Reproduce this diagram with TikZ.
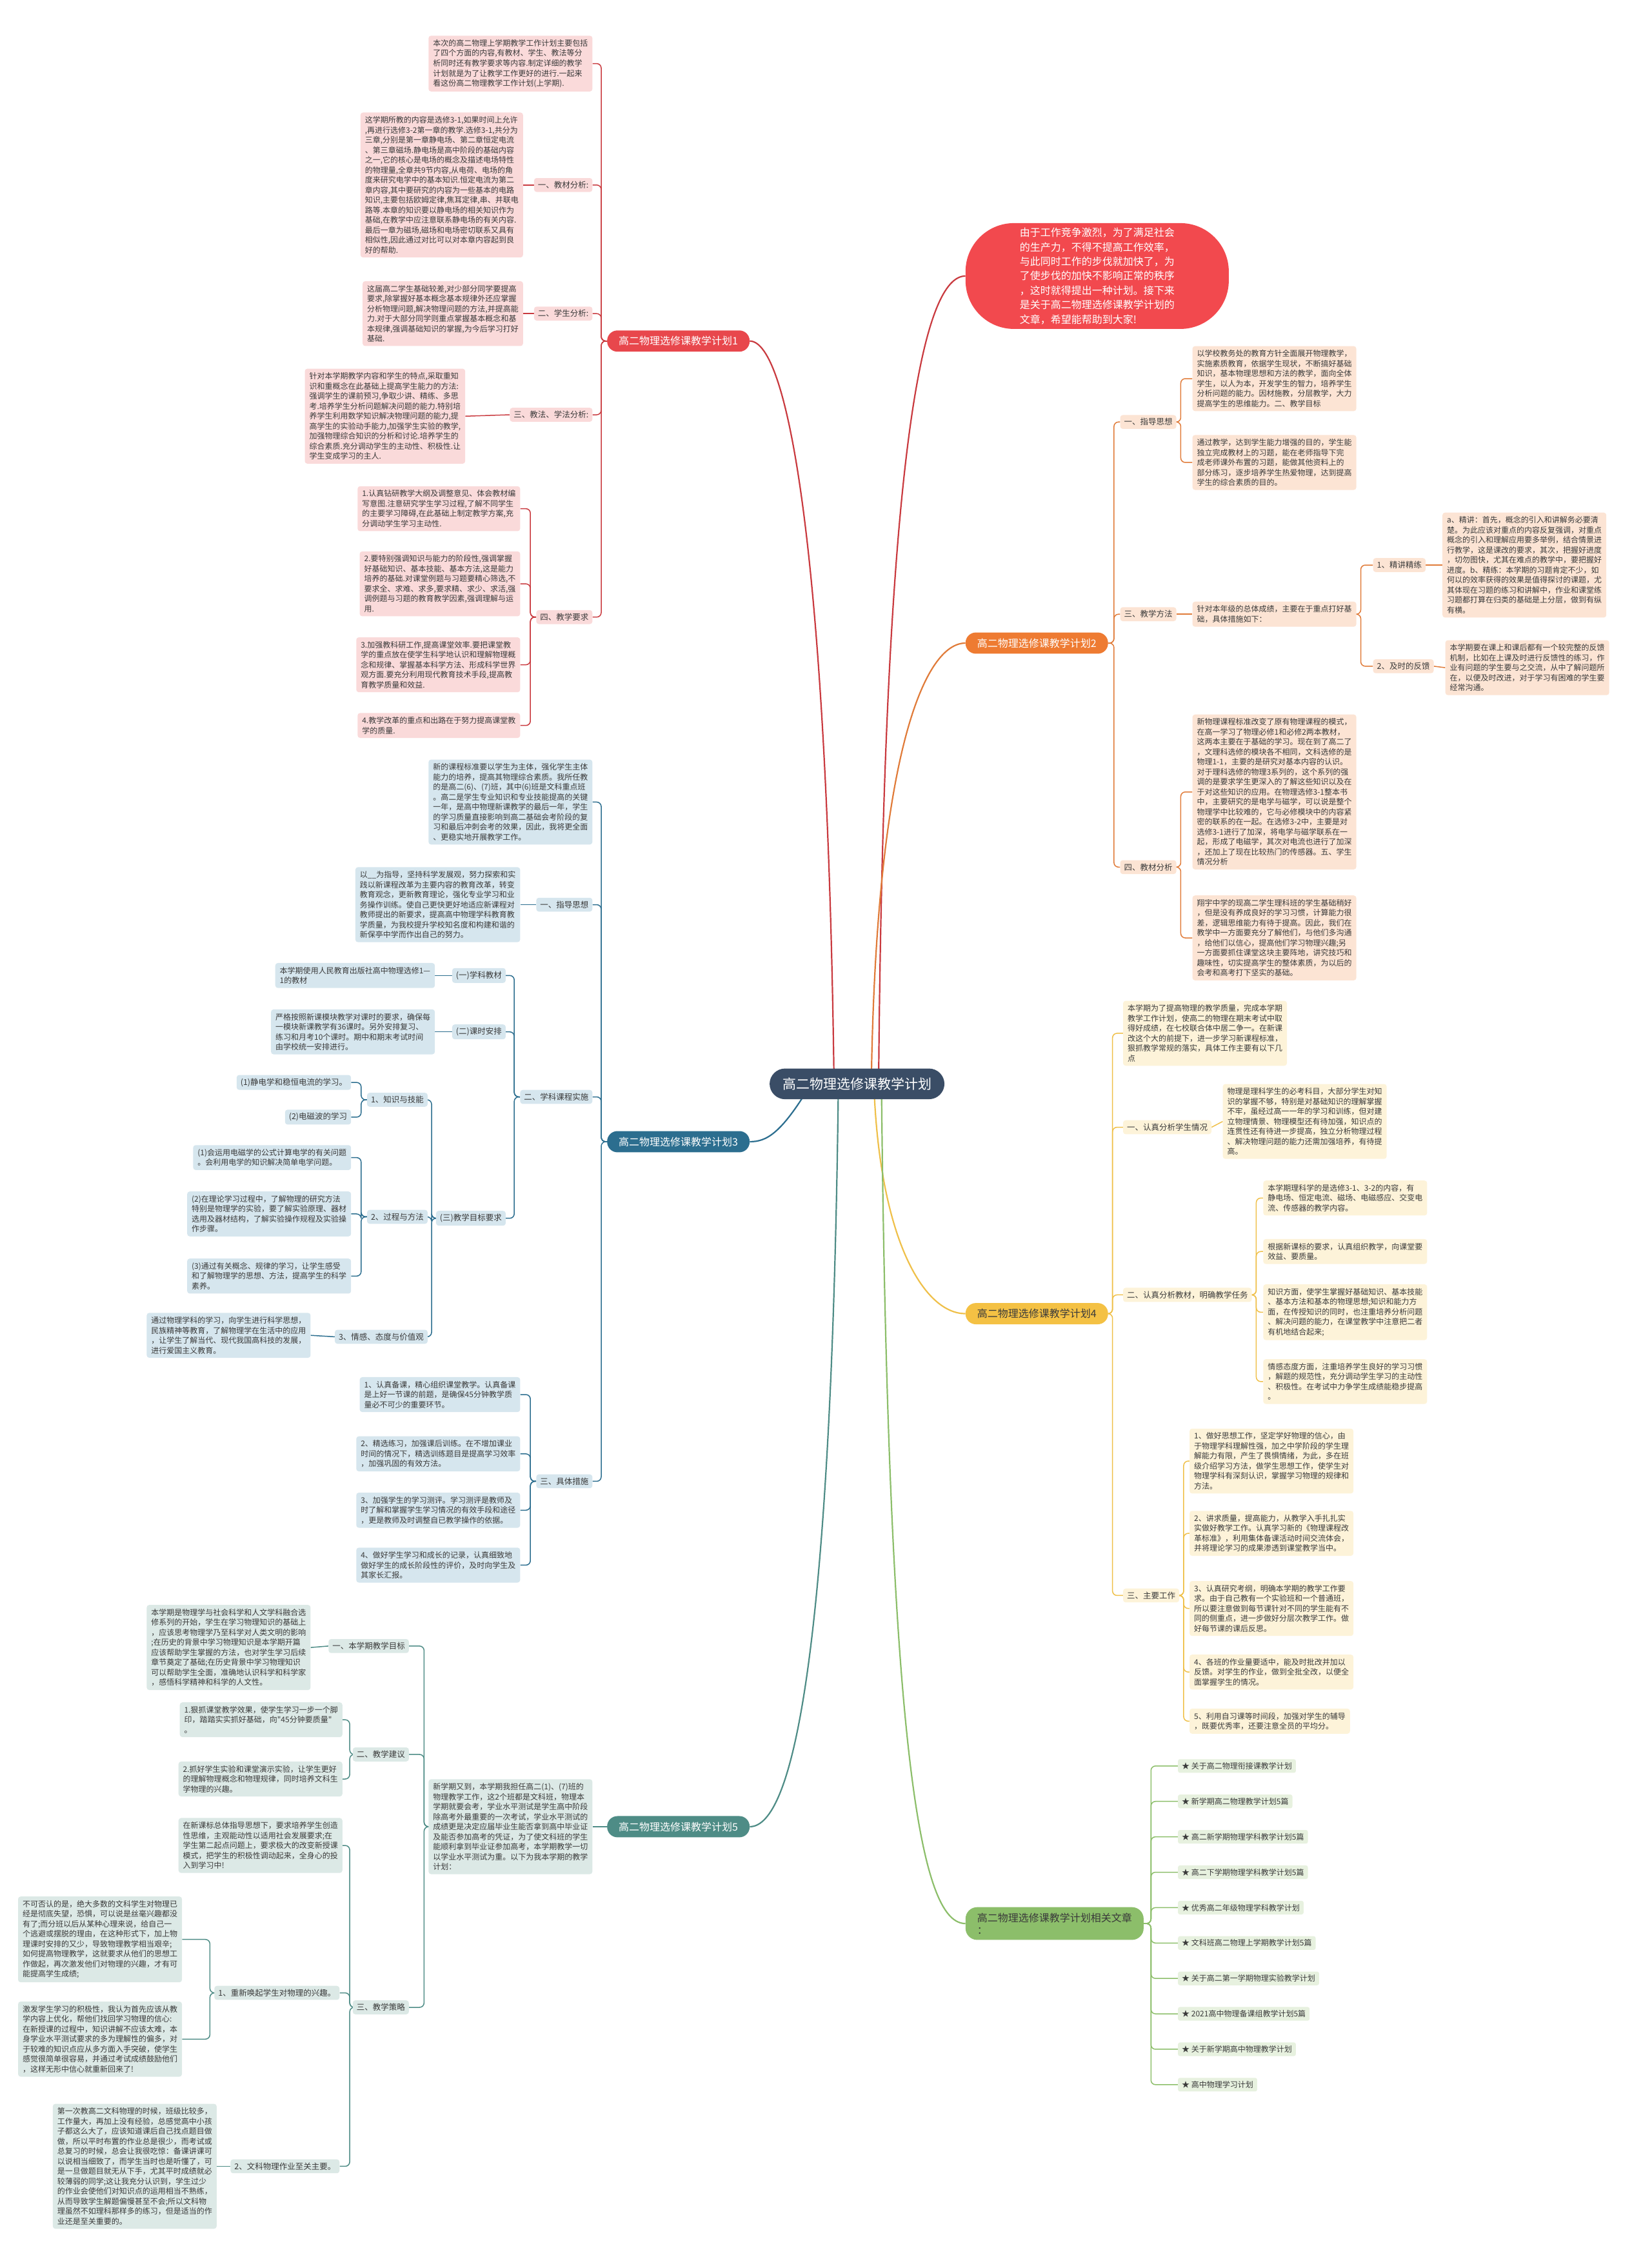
\documentclass[tikz,border=0pt]{standalone}
\usepackage{fontspec}
\newfontfamily\cjk{Noto Sans CJK SC}
\usetikzlibrary{backgrounds}
\definecolor{ink}{HTML}{3A3A3A}
\definecolor{rootC}{HTML}{3A4D66}
\definecolor{redN}{HTML}{E8474C}
\definecolor{redL}{HTML}{C93A3F}
\definecolor{redB}{HTML}{FADADA}
\definecolor{topR}{HTML}{F2494E}
\definecolor{blueN}{HTML}{2C6E8F}
\definecolor{blueB}{HTML}{D6E6EE}
\definecolor{tealN}{HTML}{4E8C86}
\definecolor{tealB}{HTML}{DCE9E6}
\definecolor{orN}{HTML}{EE7B32}
\definecolor{orL}{HTML}{E07B39}
\definecolor{orB}{HTML}{FCE4D4}
\definecolor{goN}{HTML}{F4C144}
\definecolor{goL}{HTML}{EFC04A}
\definecolor{goB}{HTML}{FDF3D9}
\definecolor{grN}{HTML}{8CBE6A}
\definecolor{grB}{HTML}{E7F1DF}

\begin{document}
\begin{tikzpicture}[
        x=2.24pt, y=-2.24pt,
        box/.style={fill=#1, rounded corners=4pt, align=left, inner xsep=7pt, inner ysep=6pt, text=ink, font=\cjk\fontsize{12}{15.5}\selectfont},
        tag/.style={fill=#1, rounded corners=4pt, inner xsep=6pt, inner ysep=5pt, text=ink, font=\cjk\fontsize{12.5}{15}\selectfont},
        plan/.style={fill=#1, rounded corners=16pt, inner xsep=18pt, inner ysep=9pt, text=white, font=\cjk\fontsize{16}{19}\selectfont},
        item/.style={fill=grB, rounded corners=3pt, inner xsep=6pt, inner ysep=5pt, text=ink, font=\cjk\fontsize{12}{14}\selectfont},
        link/.style={draw=#1, line width=1.5pt, rounded corners=7pt},
        trunk/.style={draw=#1, line width=2.2pt}
    ]
    \useasboundingbox (0,0) rectangle (1143,1568);

    % Centre
    \node[fill=rootC, rounded corners=24pt, inner xsep=20pt, inner ysep=14pt, text=white, font=\cjk\fontsize{21}{25}\selectfont] (root) at (593,750) {高二物理选修课教学计划};

    % Plan 1 (red)
    \node[plan=redN, anchor=west] (plan1) at (420,236) {高二物理选修课教学计划1};
    \node[box=redB, anchor=east] (p1i) at (410,44) {本次的高二物理上学期教学工作计划主要包括\\了四个方面的内容,有教材、学生、教法等分\\析同时还有教学要求等内容.制定详细的教学\\计划就是为了让教学工作更好的进行.一起来\\看这份高二物理教学工作计划(上学期).};
    \node[tag=redB, anchor=east] (p1a) at (410,128) {一、教材分析:};
    \node[box=redB, anchor=east] (p1at) at (362,128) {这学期所教的内容是选修3-1,如果时间上允许\\,再进行选修3-2第一章的教学.选修3-1,共分为\\三章,分别是第一章静电场、第二章恒定电流\\、第三章磁场.静电场是高中阶段的基础内容\\之一,它的核心是电场的概念及描述电场特性\\的物理量,全章共9节内容,从电荷、电场的角\\度来研究电学中的基本知识.恒定电流为第二\\章内容,其中要研究的内容为一些基本的电路\\知识,主要包括欧姆定律,焦耳定律,串、并联电\\路等.本章的知识要以静电场的相关知识作为\\基础,在教学中应注意联系静电场的有关内容.\\最后一章为磁场,磁场和电场密切联系又具有\\相似性,因此通过对比可以对本章内容起到良\\好的帮助.};
    \node[tag=redB, anchor=east] (p1b) at (410,217) {二、学生分析:};
    \node[box=redB, anchor=east] (p1bt) at (362,217) {这届高二学生基础较差,对少部分同学要提高\\要求,除掌握好基本概念基本规律外还应掌握\\分析物理问题,解决物理问题的方法,并提高能\\力.对于大部分同学则重点掌握基本概念和基\\本规律,强调基础知识的掌握,为今后学习打好\\基础.};
    \node[tag=redB, anchor=east] (p1c) at (410,287) {三、教法、学法分析:};
    \node[box=redB, anchor=east] (p1ct) at (322,288) {针对本学期教学内容和学生的特点,采取重知\\识和重概念在此基础上提高学生能力的方法:\\强调学生的课前预习,争取少讲、精练、多思\\考.培养学生分析问题解决问题的能力.特别培\\养学生利用数学知识解决物理问题的能力,提\\高学生的实验动手能力,加强学生实验的教学,\\加强物理综合知识的分析和讨论.培养学生的\\综合素质.充分调动学生的主动性、积极性.让\\学生变成学习的主人.};
    \node[tag=redB, anchor=east] (p1d) at (410,427) {四、教学要求};
    \node[box=redB, anchor=east] (p1d1) at (360,352) {1.认真钻研教学大纲及调整意见、体会教材编\\写意图.注意研究学生学习过程,了解不同学生\\的主要学习障碍,在此基础上制定教学方案,充\\分调动学生学习主动性.};
    \node[box=redB, anchor=east] (p1d2) at (360,404) {2.要特别强调知识与能力的阶段性,强调掌握\\好基础知识、基本技能、基本方法,这是能力\\培养的基础.对课堂例题与习题要精心筛选,不\\要求全、求难、求多,要求精、求少、求活,强\\调例题与习题的教育教学因素,强调理解与运\\用.};
    \node[box=redB, anchor=east] (p1d3) at (360,460) {3.加强教科研工作,提高课堂效率.要把课堂教\\学的重点放在使学生科学地认识和理解物理概\\念和规律、掌握基本科学方法、形成科学世界\\观方面.要充分利用现代教育技术手段,提高教\\育教学质量和效益.};
    \node[box=redB, anchor=east] (p1d4) at (360,502) {4.教学改革的重点和出路在于努力提高课堂教\\学的质量.};

    % Plan 3 (blue)
    \node[plan=blueN, anchor=west] (plan3) at (420,790) {高二物理选修课教学计划3};
    \node[box=blueB, anchor=east] (p3i) at (410,555) {新的课程标准要以学生为主体，强化学生主体\\能力的培养，提高其物理综合素质。我所任教\\的是高二(6)、(7)班，其中(6)班是文科重点班\\。高二是学生专业知识和专业技能提高的关键\\一年，是高中物理新课教学的最后一年，学生\\的学习质量直接影响到高二基础会考阶段的复\\习和最后冲刺会考的效果，因此，我将更全面\\、更稳实地开展教学工作。};
    \node[tag=blueB, anchor=east] (p3a) at (410,626) {一、指导思想};
    \node[box=blueB, anchor=east] (p3at) at (360,626) {以\_\_为指导，坚持科学发展观，努力探索和实\\践以新课程改革为主要内容的教育改革，转变\\教育观念，更新教育理论，强化专业学习和业\\务操作训练。使自己更快更好地适应新课程对\\教师提出的新要求，提高高中物理学科教育教\\学质量，为我校提升学校知名度和构建和谐的\\新保亭中学而作出自己的努力。};
    \node[tag=blueB, anchor=east] (p3b) at (410,759) {二、学科课程实施};
    \node[tag=blueB, anchor=east] (p3b1) at (350,675) {(一)学科教材};
    \node[box=blueB, anchor=east] (p3b1t) at (301,675) {本学期使用人民教育出版社高中物理选修1—\\1的教材};
    \node[tag=blueB, anchor=east] (p3b2) at (350,714) {(二)课时安排};
    \node[box=blueB, anchor=east] (p3b2t) at (301,714) {严格按照新课模块教学对课时的要求，确保每\\一模块新课教学有36课时。另外安排复习、\\练习和月考10个课时。期中和期末考试时间\\由学校统一安排进行。};
    \node[tag=blueB, anchor=east] (p3b3) at (350,843) {(三)教学目标要求};
    \node[tag=blueB, anchor=east] (p3k) at (296,761) {1、知识与技能};
    \node[tag=blueB, anchor=east] (p3k1) at (243,749) {(1)静电学和稳恒电流的学习。};
    \node[tag=blueB, anchor=east] (p3k2) at (243,773) {(2)电磁波的学习};
    \node[tag=blueB, anchor=east] (p3m) at (296,842) {2、过程与方法};
    \node[box=blueB, anchor=east] (p3m1) at (243,801) {(1)会运用电磁学的公式计算电学的有关问题\\。会利用电学的知识解决简单电学问题。};
    \node[box=blueB, anchor=east] (p3m2) at (243,840) {(2)在理论学习过程中，了解物理的研究方法\\特别是物理学的实验，要了解实验原理、器材\\选用及器材结构，了解实验操作规程及实验操\\作步骤。};
    \node[box=blueB, anchor=east] (p3m3) at (243,883) {(3)通过有关概念、规律的学习，让学生感受\\和了解物理学的思想、方法，提高学生的科学\\素养。};
    \node[tag=blueB, anchor=east] (p3e) at (296,925) {3、情感、态度与价值观};
    \node[box=blueB, anchor=east] (p3et) at (215,924) {通过物理学科的学习，向学生进行科学思想，\\民族精神等教育，了解物理学在生活中的应用\\，让学生了解当代、现代我国高科技的发展，\\进行爱国主义教育。};
    \node[tag=blueB, anchor=east] (p3c) at (410,1025) {三、具体措施};
    \node[box=blueB, anchor=east] (p3c1) at (360,965) {1、认真备课，精心组织课堂教学。认真备课\\是上好一节课的前题，是确保45分钟教学质\\量必不可少的重要环节。};
    \node[box=blueB, anchor=east] (p3c2) at (360,1006) {2、精选练习，加强课后训练。在不增加课业\\时间的情况下，精选训练题目是提高学习效率\\，加强巩固的有效方法。};
    \node[box=blueB, anchor=east] (p3c3) at (360,1045) {3、加强学生的学习测评。学习测评是教师及\\时了解和掌握学生学习情况的有效手段和途径\\，更是教师及时调整自已教学操作的依据。};
    \node[box=blueB, anchor=east] (p3c4) at (360,1083) {4、做好学生学习和成长的记录，认真细致地\\做好学生的成长阶段性的评价，及时向学生及\\其家长汇报。};

    % Plan 5 (teal)
    \node[plan=tealN, anchor=west] (plan5) at (420,1264) {高二物理选修课教学计划5};
    \node[box=tealB, anchor=east] (p5i) at (410,1264) {新学期又到，本学期我担任高二(1)、(7)班的\\物理教学工作，这2个班都是文科班，物理本\\学期就要会考，学业水平测试是学生高中阶段\\除高考外最重要的一次考试，学业水平测试的\\成绩更是决定应届毕业生能否拿到高中毕业证\\及能否参加高考的凭证，为了使文科班的学生\\能顺利拿到毕业证参加高考，本学期教学一切\\以学业水平测试为重。以下为我本学期的教学\\计划：};
    \node[tag=tealB, anchor=east] (p5a) at (283,1139) {一、本学期教学目标};
    \node[box=tealB, anchor=east] (p5at) at (215,1140) {本学期是物理学与社会科学和人文学科融合选\\修系列的开始，学生在学习物理知识的基础上\\，应该思考物理学乃至科学对人类文明的影响\\;在历史的背景中学习物理知识是本学期开篇\\应该帮助学生掌握的方法，也对学生学习后续\\章节奠定了基础;在历史背景中学习物理知识\\可以帮助学生全面，准确地认识科学和科学家\\，感悟科学精神和科学的人文性。};
    \node[tag=tealB, anchor=east] (p5b) at (283,1214) {二、教学建议};
    \node[box=tealB, anchor=east] (p5b1) at (237,1190) {1.狠抓课堂教学效果，使学生学习一步一个脚\\印，踏踏实实抓好基础，向"45分钟要质量"\\。};
    \node[box=tealB, anchor=east] (p5b2) at (237,1231) {2.抓好学生实验和课堂演示实验，让学生更好\\的理解物理概念和物理规律，同时培养文科生\\学物理的兴趣。};
    \node[tag=tealB, anchor=east] (p5c) at (283,1389) {三、教学策略};
    \node[box=tealB, anchor=east] (p5c0) at (237,1277) {在新课标总体指导思想下，要求培养学生创造\\性思维，主观能动性以适用社会发展要求;在\\学生第二起点问题上，要求极大的改变新授课\\模式，把学生的积极性调动起来，全身心的投\\入到学习中!};
    \node[tag=tealB, anchor=east] (p5c1) at (235,1379) {1、重新唤起学生对物理的兴趣。};
    \node[box=tealB, anchor=east] (p5c1a) at (126,1342) {不可否认的是，绝大多数的文科学生对物理已\\经是彻底失望，恐惧，可以说是丝毫兴趣都没\\有了;而分班以后从某种心理来说，给自己一\\个逃避或摆脱的理由，在这种形式下，加上物\\理课时安排的又少，导致物理教学相当艰辛;\\如何提高物理教学，这就要求从他们的思想工\\作做起，再次激发他们对物理的兴趣，才有可\\能提高学生成绩;};
    \node[box=tealB, anchor=east] (p5c1b) at (126,1411) {激发学生学习的积极性，我认为首先应该从教\\学内容上优化，帮他们找回学习物理的信心:\\在新授课的过程中，知识讲解不应该太难，本\\身学业水平测试要求的多为理解性的偏多，对\\于较难的知识点应从多方面入手突破，使学生\\感觉很简单很容易，并通过考试成绩鼓励他们\\，这样无形中信心就重新回来了!};
    \node[tag=tealB, anchor=east] (p5c2) at (235,1499) {2、文科物理作业至关主要。};
    \node[box=tealB, anchor=east] (p5c2t) at (150,1499) {第一次教高二文科物理的时候，班级比较多，\\工作量大，再加上没有经验，总感觉高中小孩\\子都这么大了，应该知道课后自己找点题目做\\做，所以平时布置的作业总是很少，而考试或\\总复习的时候，总会让我很吃惊：备课讲课可\\以说相当细致了，而学生当时也是听懂了，可\\是一旦做题目就无从下手，尤其平时成绩就必\\较薄弱的同学;这让我充分认识到，学生过少\\的作业会使他们对知识点的运用相当不熟练，\\从而导致学生解题偏慢甚至不会;所以文科物\\理虽然不如理科那样多的练习，但是适当的作\\业还是至关重要的。};

    % Opening note (red)
    \node[fill=topR, rounded corners=75pt, minimum width=408pt, minimum height=164pt, align=left, text=white, font=\cjk\fontsize{16}{22.4}\selectfont, anchor=west] (intro) at (668,191) {由于工作竞争激烈，为了满足社会\\的生产力，不得不提高工作效率，\\与此同时工作的步伐就加快了，为\\了使步伐的加快不影响正常的秩序\\，这时就得提出一种计划。接下来\\是关于高二物理选修课教学计划的\\文章，希望能帮助到大家!};

    % Plan 2 (orange)
    \node[plan=orN, anchor=west] (plan2) at (668,445) {高二物理选修课教学计划2};
    \node[tag=orB, anchor=west] (p2a) at (775,292) {一、指导思想};
    \node[box=orB, anchor=west] (p2a1) at (825,262) {以学校教务处的教育方针全面展开物理教学，\\实施素质教育，依据学生现状，不断搞好基础\\知识，基本物理思想和方法的教学，面向全体\\学生，以人为本，开发学生的智力，培养学生\\分析问题的能力。因材施教，分层教学，大力\\提高学生的思维能力。二、教学目标};
    \node[box=orB, anchor=west] (p2a2) at (825,320) {通过教学，达到学生能力增强的目的，学生能\\独立完成教材上的习题，能在老师指导下完\\成老师课外布置的习题，能做其他资料上的\\部分练习，逐步培养学生热爱物理，达到提高\\学生的综合素质的目的。};
    \node[tag=orB, anchor=west] (p2b) at (775,425) {三、教学方法};
    \node[box=orB, anchor=west] (p2bt) at (825,425) {针对本年级的总体成绩，主要在于重点打好基\\础，具体措施如下：};
    \node[tag=orB, anchor=west] (p2b1) at (950,391) {1、精讲精练};
    \node[box=orB, anchor=west] (p2b1t) at (998,391) {a、精讲：首先，概念的引入和讲解务必要清\\楚。为此应该对重点的内容反复强调，对重点\\概念的引入和理解应用要多举例，结合情景进\\行教学，这是课改的要求，其次，把握好进度\\，切勿图快，尤其在难点的教学中，要把握好\\进度。b、精练：本学期的习题肯定不少，如\\何以的效率获得的效果是值得探讨的课题，尤\\其体现在习题的练习和讲解中，作业和课堂练\\习题都打算在归类的基础是上分层，做到有纵\\有横。};
    \node[tag=orB, anchor=west] (p2b2) at (950,461) {2、及时的反馈};
    \node[box=orB, anchor=west] (p2b2t) at (1000,462) {本学期要在课上和课后都有一个较完整的反馈\\机制，比如在上课及时进行反馈性的练习，作\\业有问题的学生要与之交流，从中了解问题所\\在，以便及时改进，对于学习有困难的学生要\\经常沟通。};
    \node[tag=orB, anchor=west] (p2c) at (775,600) {四、教材分析};
    \node[box=orB, anchor=west] (p2c1) at (825,548) {新物理课程标准改变了原有物理课程的模式，\\在高一学习了物理必修1和必修2两本教材，\\这两本主要在于基础的学习。现在到了高二了\\，文理科选修的模块各不相同，文科选修的是\\物理1-1，主要的是研究对基本内容的认识。\\对于理科选修的物理3系列的，这个系列的强\\调的是要求学生更深入的了解这些知识以及在\\于对这些知识的应用。在物理选修3-1整本书\\中，主要研究的是电学与磁学，可以说是整个\\物理学中比较难的，它与必修模块中的内容紧\\密的联系的在一起。在选修3-2中，主要是对\\选修3-1进行了加深，将电学与磁学联系在一\\起，形成了电磁学，其次对电流也进行了加深\\，还加上了现在比较热门的传感器。五、学生\\情况分析};
    \node[box=orB, anchor=west] (p2c2) at (825,649) {翔宇中学的现高二学生理科班的学生基础稍好\\，但是没有养成良好的学习习惯，计算能力很\\差，逻辑思维能力有待于提高。因此，我们在\\教学中一方面要充分了解他们，与他们多沟通\\，给他们以信心，提高他们学习物理兴趣;另\\一方面要抓住课堂这块主要阵地，讲究技巧和\\趣味性，切实提高学生的整体素质，为以后的\\会考和高考打下坚实的基础。};

    % Plan 4 (gold)
    \node[plan=goN, text=ink, anchor=west] (plan4) at (668,909) {高二物理选修课教学计划4};
    \node[box=goB, anchor=west] (p4i) at (777,715) {本学期为了提高物理的教学质量，完成本学期\\教学工作计划，使高二的物理在期末考试中取\\得好成绩，在七校联合体中居二争一。在新课\\改这个大的前提下，进一步学习新课程标准，\\狠抓教学常规的落实，具体工作主要有以下几\\点};
    \node[tag=goB, anchor=west] (p4a) at (777,780) {一、认真分析学生情况};
    \node[box=goB, anchor=west] (p4at) at (846,776) {物理是理科学生的必考科目，大部分学生对知\\识的掌握不够，特别是对基础知识的理解掌握\\不牢，虽经过高一一年的学习和训练，但对建\\立物理情景、物理模型还有待加强，知识点的\\连贯性还有待进一步提高，独立分析物理过程\\、解决物理问题的能力还需加强培养，有待提\\高。};
    \node[tag=goB, anchor=west] (p4b) at (777,896) {二、认真分析教材，明确教学任务};
    \node[box=goB, anchor=west] (p4b1) at (874,829) {本学期理科学的是选修3-1、3-2的内容，有\\静电场、恒定电流、磁场、电磁感应、交变电\\流、传感器的教学内容。};
    \node[box=goB, anchor=west] (p4b2) at (874,866) {根据新课标的要求，认真组织教学，向课堂要\\效益、要质量。};
    \node[box=goB, anchor=west] (p4b3) at (874,908) {知识方面，使学生掌握好基础知识、基本技能\\、基本方法和基本的物理思想;知识和能力方\\面，在传授知识的同时，也注重培养分析问题\\、解决问题的能力，在课堂教学中注意把二者\\有机地结合起来;};
    \node[box=goB, anchor=west] (p4b4) at (874,956) {情感态度方面，注重培养学生良好的学习习惯\\，解题的规范性，充分调动学生学习的主动性\\、积极性。在考试中力争学生成绩能稳步提高\\。};
    \node[tag=goB, anchor=west] (p4c) at (777,1104) {三、主要工作};
    \node[box=goB, anchor=west] (p4c1) at (823,1011) {1、做好思想工作，坚定学好物理的信心，由\\于物理学科理解性强，加之中学阶段的学生理\\解能力有限，产生了畏惧情绪，为此，多在班\\级介绍学习方法，做学生思想工作，使学生对\\物理学科有深刻认识，掌握学习物理的规律和\\方法。};
    \node[box=goB, anchor=west] (p4c2) at (823,1061) {2、讲求质量，提高能力，从教学入手扎扎实\\实做好教学工作。认真学习新的《物理课程改\\革标准》，利用集体备课活动时间交流体会，\\并将理论学习的成果渗透到课堂教学当中。};
    \node[box=goB, anchor=west] (p4c3) at (823,1113) {3、认真研究考纲，明确本学期的教学工作要\\求。由于自己教有一个实验班和一个普通班，\\所以要注意做到每节课针对不同的学生能有不\\同的侧重点，进一步做好分层次教学工作。做\\好每节课的课后反思。};
    \node[box=goB, anchor=west] (p4c4) at (823,1157) {4、各班的作业量要适中，能及时批改并加以\\反馈。对学生的作业，做到全批全改，以便全\\面掌握学生的情况。};
    \node[box=goB, anchor=west] (p4c5) at (823,1191) {5、利用自习课等时间段，加强对学生的辅导\\，既要优秀率，还要注意全员的平均分。};

    % Related articles (green)
    \node[plan=grN, text=ink, rounded corners=18pt, align=left, anchor=west] (rel) at (668,1331) {高二物理选修课教学计划相关文章\\：};
    \foreach \t [count=\i] in {关于高二物理衔接课教学计划, 新学期高二物理教学计划5篇, 高二新学期物理学科教学计划5篇, 高二下学期物理学科教学计划5篇, 优秀高二年级物理学科教学计划, 文科班高二物理上学期教学计划5篇, 关于高二第一学期物理实验教学计划, 2021高中物理备课组教学计划5篇, 关于新学期高中物理教学计划, 高中物理学习计划}
        \node[item, anchor=west] (rel\i) at (815,1197.5+24.5*\i) {★ \t};

    % Connectors
    \begin{scope}[on background layer]
        \draw[trunk=redL] (577,742) .. controls (572,380) and (545,236) .. (plan1.east);
        \draw[trunk=blueN] (560,752) .. controls (540,785) and (530,790) .. (plan3.east);
        \draw[trunk=tealN] (580,758) .. controls (575,1150) and (548,1264) .. (plan5.east);
        \draw[trunk=redL] (608,742) .. controls (612,300) and (640,191) .. (intro.west);
        \draw[trunk=orL] (603,742) .. controls (607,520) and (640,445) .. (plan2.west);
        \draw[trunk=goL] (605,758) .. controls (610,860) and (640,909) .. (plan4.west);
        \draw[trunk=grN] (610,758) .. controls (615,1240) and (640,1331) .. (rel.west);

        \foreach \c in {p1i,p1a,p1b,p1c,p1d}
            \draw[link=redL] (plan1.west) -- ++(-4,0) |- (\c.east);
        \draw[link=redL] (p1a.west) -- (p1at.east);
        \draw[link=redL] (p1b.west) -- (p1bt.east);
        \draw[link=redL] (p1c.west) -- (p1ct.east);
        \foreach \c in {p1d1,p1d2,p1d3,p1d4}
            \draw[link=redL] (p1d.west) -- ++(-4,0) |- (\c.east);

        \foreach \c in {p3i,p3a,p3b,p3c}
            \draw[link=blueN] (plan3.west) -- ++(-4,0) |- (\c.east);
        \draw[link=blueN] (p3a.west) -- (p3at.east);
        \foreach \c in {p3b1,p3b2,p3b3}
            \draw[link=blueN] (p3b.west) -- ++(-4,0) |- (\c.east);
        \draw[link=blueN] (p3b1.west) -- (p3b1t.east);
        \draw[link=blueN] (p3b2.west) -- (p3b2t.east);
        \foreach \c in {p3k,p3m,p3e}
            \draw[link=blueN] (p3b3.west) -- ++(-3,0) |- (\c.east);
        \foreach \c in {p3k1,p3k2}
            \draw[link=blueN] (p3k.west) -- ++(-4,0) |- (\c.east);
        \foreach \c in {p3m1,p3m2,p3m3}
            \draw[link=blueN] (p3m.west) -- ++(-4,0) |- (\c.east);
        \draw[link=blueN] (p3e.west) -- (p3et.east);
        \foreach \c in {p3c1,p3c2,p3c3,p3c4}
            \draw[link=blueN] (p3c.west) -- ++(-4,0) |- (\c.east);

        \draw[link=tealN] (plan5.west) -- (p5i.east);
        \foreach \c in {p5a,p5b,p5c}
            \draw[link=tealN] (p5i.west) -- ++(-3,0) |- (\c.east);
        \draw[link=tealN] (p5a.west) -- (p5at.east);
        \foreach \c in {p5b1,p5b2}
            \draw[link=tealN] (p5b.west) -- ++(-2,0) |- (\c.east);
        \foreach \c in {p5c0,p5c1,p5c2}
            \draw[link=tealN] (p5c.west) -- ++(-2,0) |- (\c.east);
        \foreach \c in {p5c1a,p5c1b}
            \draw[link=tealN] (p5c1.west) -- ++(-3,0) |- (\c.east);
        \draw[link=tealN] (p5c2.west) -- (p5c2t.east);

        \foreach \c in {p2a,p2b,p2c}
            \draw[link=orL] (plan2.east) -- ++(4,0) |- (\c.west);
        \foreach \c in {p2a1,p2a2}
            \draw[link=orL] (p2a.east) -- ++(3,0) |- (\c.west);
        \draw[link=orL] (p2b.east) -- (p2bt.west);
        \foreach \c in {p2b1,p2b2}
            \draw[link=orL] (p2bt.east) -- ++(3,0) |- (\c.west);
        \draw[link=orL] (p2b1.east) -- (p2b1t.west);
        \draw[link=orL] (p2b2.east) -- (p2b2t.west);
        \foreach \c in {p2c1,p2c2}
            \draw[link=orL] (p2c.east) -- ++(3,0) |- (\c.west);

        \foreach \c in {p4i,p4a,p4b,p4c}
            \draw[link=goL] (plan4.east) -- ++(3,0) |- (\c.west);
        \draw[link=goL] (p4a.east) -- (p4at.west);
        \foreach \c in {p4b1,p4b2,p4b3,p4b4}
            \draw[link=goL] (p4b.east) -- ++(3,0) |- (\c.west);
        \foreach \c in {p4c1,p4c2,p4c3,p4c4,p4c5}
            \draw[link=goL] (p4c.east) -- ++(3,0) |- (\c.west);

        \foreach \i in {1,...,10}
            \draw[link=grN] (rel.east) -- ++(5,0) |- (rel\i.west);
    \end{scope}
\end{tikzpicture}
\end{document}
